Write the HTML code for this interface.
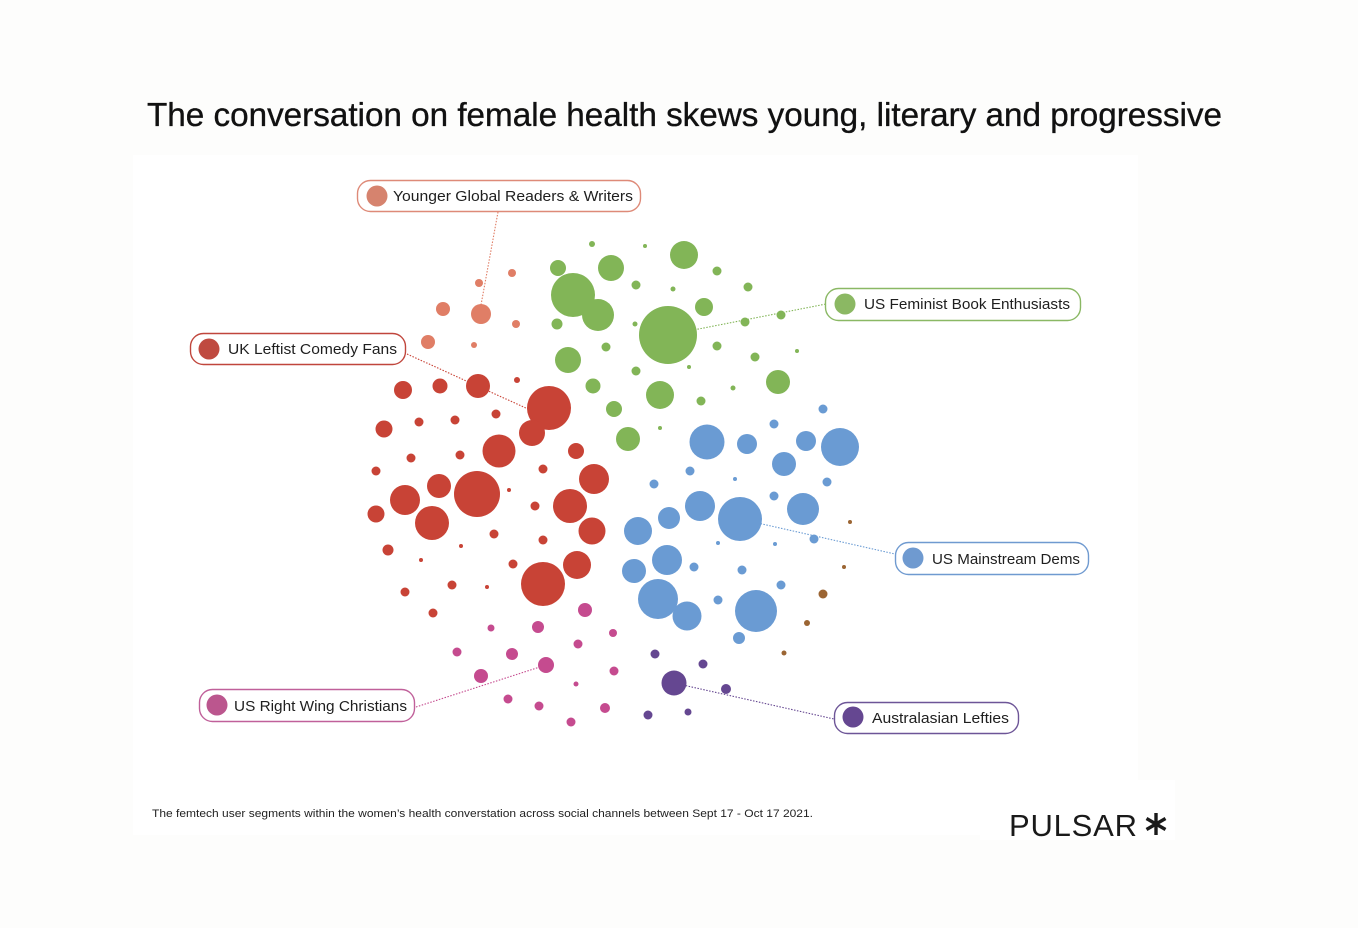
<!DOCTYPE html>
<html><head><meta charset="utf-8"><style>
html,body{margin:0;padding:0;background:#fdfdfc;}
svg{display:block;}
text{font-family:"Liberation Sans",sans-serif;}
</style></head><body>
<svg width="1358" height="928" viewBox="0 0 1358 928" xmlns="http://www.w3.org/2000/svg">
<rect x="0" y="0" width="1358" height="928" fill="#fdfdfc"/>
<rect x="133" y="155" width="1005" height="680" fill="#ffffff"/>
<rect x="980" y="780" width="195" height="60" fill="#ffffff"/>

<text x="147" y="126" font-size="33" fill="#111" stroke="#111" stroke-width="0.35" textLength="1075" lengthAdjust="spacingAndGlyphs">The conversation on female health skews young, literary and progressive</text>

<!-- leader lines -->
<g fill="none" stroke-width="1.1" stroke-dasharray="1.5 1.5">
<line x1="498" y1="212" x2="481" y2="305" stroke="#e07e66"/>
<line x1="407" y1="354" x2="528" y2="409" stroke="#c84336"/>
<line x1="668" y1="335" x2="826" y2="304" stroke="#82b557"/>
<line x1="740" y1="519" x2="895" y2="554" stroke="#6a9bd3"/>
<line x1="416" y1="707" x2="546" y2="665" stroke="#c54b8f"/>
<line x1="674" y1="683" x2="834" y2="719" stroke="#654791"/>
</g>

<!-- salmon -->
<g fill="#e07e66">
<circle cx="512" cy="273" r="4"/><circle cx="479" cy="283" r="4"/><circle cx="443" cy="309" r="7"/>
<circle cx="481" cy="314" r="10"/><circle cx="516" cy="324" r="4"/><circle cx="428" cy="342" r="7"/>
<circle cx="474" cy="345" r="3"/>
</g>
<!-- green -->
<g fill="#82b557">
<circle cx="592" cy="244" r="3"/><circle cx="645" cy="246" r="2"/><circle cx="684" cy="255" r="14"/>
<circle cx="558" cy="268" r="8"/><circle cx="611" cy="268" r="13"/><circle cx="717" cy="271" r="4.5"/>
<circle cx="573" cy="295" r="22"/><circle cx="598" cy="315" r="16"/><circle cx="636" cy="285" r="4.5"/>
<circle cx="673" cy="289" r="2.5"/><circle cx="748" cy="287" r="4.5"/><circle cx="704" cy="307" r="9"/>
<circle cx="557" cy="324" r="5.5"/><circle cx="635" cy="324" r="2.5"/><circle cx="668" cy="335" r="29"/>
<circle cx="745" cy="322" r="4.5"/><circle cx="781" cy="315" r="4.5"/><circle cx="606" cy="347" r="4.5"/>
<circle cx="717" cy="346" r="4.5"/><circle cx="797" cy="351" r="2"/><circle cx="755" cy="357" r="4.5"/>
<circle cx="568" cy="360" r="13"/><circle cx="636" cy="371" r="4.5"/><circle cx="689" cy="367" r="2"/>
<circle cx="593" cy="386" r="7.5"/><circle cx="660" cy="395" r="14"/><circle cx="733" cy="388" r="2.5"/>
<circle cx="778" cy="382" r="12"/><circle cx="701" cy="401" r="4.5"/><circle cx="614" cy="409" r="8"/>
<circle cx="660" cy="428" r="2"/><circle cx="628" cy="439" r="12"/>
</g>
<!-- red -->
<g fill="#c84336">
<circle cx="517" cy="380" r="3"/><circle cx="478" cy="386" r="12"/><circle cx="403" cy="390" r="9"/>
<circle cx="440" cy="386" r="7.5"/><circle cx="549" cy="408" r="22"/><circle cx="532" cy="433" r="13"/>
<circle cx="384" cy="429" r="8.5"/><circle cx="419" cy="422" r="4.5"/><circle cx="455" cy="420" r="4.5"/>
<circle cx="496" cy="414" r="4.5"/><circle cx="499" cy="451" r="16.5"/><circle cx="576" cy="451" r="8"/>
<circle cx="411" cy="458" r="4.5"/><circle cx="460" cy="455" r="4.5"/>
<circle cx="376" cy="471" r="4.5"/><circle cx="543" cy="469" r="4.5"/><circle cx="439" cy="486" r="12"/>
<circle cx="477" cy="494" r="23"/><circle cx="405" cy="500" r="15"/><circle cx="509" cy="490" r="2"/>
<circle cx="594" cy="479" r="15"/><circle cx="376" cy="514" r="8.5"/><circle cx="432" cy="523" r="17"/>
<circle cx="535" cy="506" r="4.5"/><circle cx="570" cy="506" r="17"/><circle cx="592" cy="531" r="13.5"/>
<circle cx="494" cy="534" r="4.5"/><circle cx="543" cy="540" r="4.5"/><circle cx="461" cy="546" r="2"/>
<circle cx="388" cy="550" r="5.5"/><circle cx="421" cy="560" r="2"/><circle cx="513" cy="564" r="4.5"/>
<circle cx="577" cy="565" r="14"/><circle cx="543" cy="584" r="22"/><circle cx="452" cy="585" r="4.5"/>
<circle cx="487" cy="587" r="2"/><circle cx="405" cy="592" r="4.5"/><circle cx="433" cy="613" r="4.5"/>
</g>
<!-- pink -->
<g fill="#c54b8f">
<circle cx="585" cy="610" r="7"/><circle cx="491" cy="628" r="3.5"/><circle cx="538" cy="627" r="6"/>
<circle cx="613" cy="633" r="4"/><circle cx="578" cy="644" r="4.5"/><circle cx="457" cy="652" r="4.5"/>
<circle cx="512" cy="654" r="6"/><circle cx="546" cy="665" r="8"/><circle cx="614" cy="671" r="4.5"/>
<circle cx="481" cy="676" r="7"/><circle cx="576" cy="684" r="2.5"/><circle cx="508" cy="699" r="4.5"/>
<circle cx="539" cy="706" r="4.5"/><circle cx="605" cy="708" r="5"/><circle cx="571" cy="722" r="4.5"/>
</g>
<!-- purple -->
<g fill="#654791">
<circle cx="655" cy="654" r="4.5"/><circle cx="703" cy="664" r="4.5"/><circle cx="674" cy="683" r="12.5"/>
<circle cx="726" cy="689" r="5"/><circle cx="648" cy="715" r="4.5"/><circle cx="688" cy="712" r="3.5"/>
</g>
<!-- brown -->
<g fill="#9b6533">
<circle cx="850" cy="522" r="2"/><circle cx="844" cy="567" r="2"/><circle cx="823" cy="594" r="4.5"/>
<circle cx="807" cy="623" r="3"/><circle cx="784" cy="653" r="2.5"/>
</g>
<!-- blue -->
<g fill="#6a9bd3">
<circle cx="823" cy="409" r="4.5"/><circle cx="774" cy="424" r="4.5"/><circle cx="707" cy="442" r="17.5"/>
<circle cx="747" cy="444" r="10"/><circle cx="806" cy="441" r="10"/><circle cx="840" cy="447" r="19"/>
<circle cx="784" cy="464" r="12"/><circle cx="690" cy="471" r="4.5"/><circle cx="735" cy="479" r="2"/>
<circle cx="827" cy="482" r="4.5"/><circle cx="654" cy="484" r="4.5"/><circle cx="774" cy="496" r="4.5"/>
<circle cx="700" cy="506" r="15"/><circle cx="669" cy="518" r="11"/><circle cx="740" cy="519" r="22"/>
<circle cx="803" cy="509" r="16"/><circle cx="638" cy="531" r="14"/><circle cx="718" cy="543" r="2"/>
<circle cx="775" cy="544" r="2"/><circle cx="814" cy="539" r="4.5"/><circle cx="667" cy="560" r="15"/>
<circle cx="634" cy="571" r="12"/><circle cx="694" cy="567" r="4.5"/><circle cx="742" cy="570" r="4.5"/>
<circle cx="781" cy="585" r="4.5"/><circle cx="658" cy="599" r="20"/><circle cx="687" cy="616" r="14.5"/>
<circle cx="718" cy="600" r="4.5"/><circle cx="756" cy="611" r="21"/><circle cx="739" cy="638" r="6"/>
</g>

<!-- labels -->
<g stroke-width="1.4">
<rect x="357.5" y="180.5" width="283" height="31" rx="13" fill="#fff" stroke="#de8a78"/>
<rect x="190.5" y="333.5" width="215" height="31" rx="13" fill="#fff" stroke="#c0463c"/>
<rect x="825.5" y="288.5" width="255" height="32" rx="13" fill="#fff" stroke="#8ab864"/>
<rect x="895.5" y="542.5" width="193" height="32" rx="13" fill="#fff" stroke="#6f9ad0"/>
<rect x="199.5" y="689.5" width="215" height="32" rx="13" fill="#fff" stroke="#c0609a"/>
<rect x="834.5" y="702.5" width="184" height="31" rx="13" fill="#fff" stroke="#6d5597"/>
</g>
<circle cx="377" cy="196" r="10.5" fill="#d6836e"/>
<circle cx="209" cy="349" r="10.5" fill="#bf4a40"/>
<circle cx="845" cy="304" r="10.5" fill="#8bb863"/>
<circle cx="913" cy="558" r="10.5" fill="#6f9ad0"/>
<circle cx="217" cy="705" r="10.5" fill="#bb568e"/>
<circle cx="853" cy="717" r="10.5" fill="#654791"/>
<g font-size="15" fill="#1e1e1e">
<text x="393" y="201" textLength="240" lengthAdjust="spacingAndGlyphs">Younger Global Readers &amp; Writers</text>
<text x="228" y="354" textLength="169" lengthAdjust="spacingAndGlyphs">UK Leftist Comedy Fans</text>
<text x="864" y="309" textLength="206" lengthAdjust="spacingAndGlyphs">US Feminist Book Enthusiasts</text>
<text x="932" y="564" textLength="148" lengthAdjust="spacingAndGlyphs">US Mainstream Dems</text>
<text x="234" y="711" textLength="173" lengthAdjust="spacingAndGlyphs">US Right Wing Christians</text>
<text x="872" y="723" textLength="137" lengthAdjust="spacingAndGlyphs">Australasian Lefties</text>
</g>

<text x="152" y="817" font-size="11" fill="#222" textLength="661" lengthAdjust="spacingAndGlyphs">The femtech user segments within the women’s health converstation across social channels between Sept 17  - Oct 17 2021.</text>

<text x="1009" y="836" font-size="31" fill="#1a1a1a" textLength="128" lengthAdjust="spacing">PULSAR</text>
<g stroke="#1a1a1a" stroke-width="3.4" stroke-linecap="butt">
<line x1="1156" y1="813" x2="1156" y2="835"/>
<line x1="1146.5" y1="818.5" x2="1165.5" y2="829.5"/>
<line x1="1146.5" y1="829.5" x2="1165.5" y2="818.5"/>
</g>
</svg>
</body></html>
